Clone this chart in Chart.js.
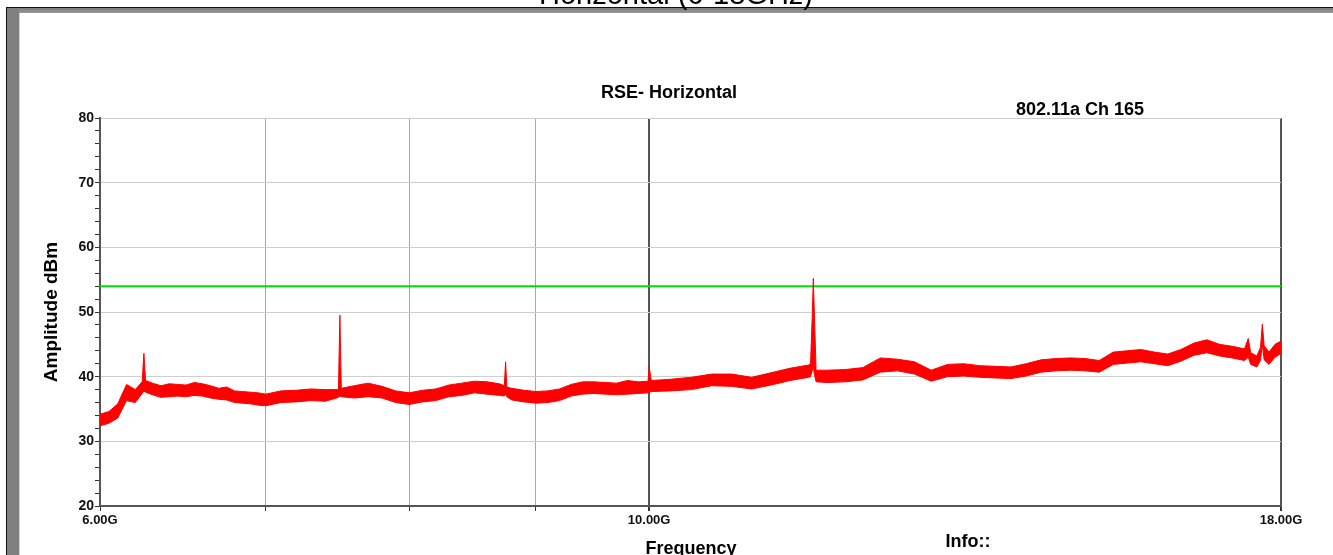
<!DOCTYPE html>
<html>
<head>
<meta charset="utf-8">
<script src="https://cdn.jsdelivr.net/npm/chart.js@4.4.1/dist/chart.umd.min.js"></script>
<style>
  html, body { margin: 0; padding: 0; background: #fff; }
  #wrap { position: relative; width: 1333px; height: 555px; overflow: hidden; }
  .frameTopLine { position: absolute; left: 6px; top: 7px; width: 1327px; height: 1px; background: #111; }
  .frameLeftLine { position: absolute; left: 6px; top: 7px; width: 1px; height: 548px; background: #111; }
  .frameTop { position: absolute; left: 7px; top: 8px; width: 1326px; height: 5px; background: linear-gradient(#7a7a7a, #9a9a9a); }
  .frameLeft { position: absolute; left: 7px; top: 8px; width: 12px; height: 547px; background: #808080; }
  .frameLeftEdge { position: absolute; left: 19px; top: 13px; width: 1px; height: 542px; background: #d0d0d0; }
  canvas { position: absolute; left: 0; top: 0; }
</style>
</head>
<body>
<div id="wrap">
  <div class="frameTop"></div>
  <div class="frameLeft"></div>
  <div class="frameLeftEdge"></div>
  <div class="frameTopLine"></div>
  <div class="frameLeftLine"></div>
  <canvas id="rseChart" width="1333" height="555"></canvas>
</div>
<script>
// frequencies in GHz, envelope of the measured trace in dBm
const freqGHz = [6.00, 6.05, 6.10, 6.15, 6.20, 6.24, 6.25, 6.26, 6.30, 6.35, 6.40, 6.45, 6.50, 6.55, 6.60, 6.65, 6.70, 6.75, 6.80, 6.85, 6.90, 6.95, 7.00,
  7.1, 7.2, 7.3, 7.4, 7.49, 7.50, 7.51, 7.6, 7.7, 7.8, 7.9, 8.0, 8.1, 8.2, 8.3, 8.4, 8.5, 8.6, 8.7, 8.74, 8.75, 8.76, 8.8, 8.9, 9.0,
  9.1, 9.2, 9.3, 9.4, 9.5, 9.6, 9.7, 9.8, 9.9, 9.99, 10.0, 10.02, 10.2, 10.4, 10.6, 10.8, 11.0, 11.2, 11.4, 11.6, 11.62, 11.64, 11.65, 11.66, 11.68,
  11.8, 12.0, 12.2, 12.4, 12.6, 12.8, 13.0, 13.2, 13.4, 13.6, 13.8, 14.0, 14.2, 14.4, 14.6, 14.8, 15.0, 15.2, 15.4, 15.6, 15.8, 16.0,
  16.2, 16.4, 16.6, 16.8, 17.0, 17.2, 17.4, 17.46, 17.5, 17.6, 17.66, 17.69, 17.72, 17.8, 17.9, 18.0];

const upperDb = [34.2, 34.6, 35.8, 38.8, 38.0, 39.2, 43.6, 39.4, 39.0, 38.6, 38.9, 38.8, 38.7, 39.1, 38.9, 38.6, 38.2, 38.4, 37.8, 37.7, 37.6, 37.5, 37.3,
  37.8, 37.9, 38.1, 38.0, 38.0, 49.5, 38.2, 38.6, 39.0, 38.5, 37.8, 37.5, 37.9, 38.1, 38.7, 39.0, 39.3, 39.2, 38.9, 38.6, 42.3, 38.4, 38.2, 37.9, 37.7,
  37.8, 38.1, 38.8, 39.2, 39.2, 39.1, 39.0, 39.4, 39.2, 39.3, 41.6, 39.4, 39.6, 39.9, 40.4, 40.4, 39.9, 40.6, 41.3, 41.8, 42.0, 50.0, 55.2, 50.5, 41.0,
  41.0, 41.1, 41.4, 42.9, 42.7, 42.3, 41.0, 41.9, 42.0, 41.7, 41.6, 41.5, 42.0, 42.6, 42.8, 42.9, 42.8, 42.5, 43.8, 44.0, 44.2, 43.8,
  43.5, 44.2, 45.2, 45.7, 45.0, 44.7, 44.3, 45.9, 43.7, 43.2, 44.5, 48.1, 44.8, 43.8, 45.0, 45.5];

const lowerDb = [32.4, 32.8, 33.6, 36.3, 36.0, 37.4, 37.8, 37.6, 37.2, 36.8, 36.9, 37.0, 36.9, 37.1, 37.0, 36.7, 36.5, 36.4, 36.0, 35.9, 35.8, 35.6, 35.5,
  36.0, 36.1, 36.3, 36.2, 36.8, 37.0, 36.9, 36.7, 36.9, 36.7, 36.0, 35.7, 36.1, 36.3, 36.9, 37.1, 37.5, 37.3, 37.1, 37.0, 37.3, 36.9, 36.4, 36.1, 35.9,
  36.0, 36.3, 37.0, 37.3, 37.4, 37.3, 37.2, 37.3, 37.4, 37.5, 37.6, 37.7, 37.8, 38.0, 38.6, 38.5, 38.1, 38.7, 39.4, 39.9, 40.0, 41.0, 41.5, 40.5, 39.2,
  39.1, 39.2, 39.5, 40.7, 40.9, 40.4, 39.3, 40.0, 40.1, 39.9, 39.8, 39.7, 40.1, 40.7, 40.9, 41.0, 40.9, 40.7, 41.9, 42.1, 42.3, 42.0,
  41.7, 42.4, 43.3, 43.7, 43.2, 42.9, 42.5, 43.0, 41.9, 41.5, 42.5, 45.0, 42.6, 41.9, 43.0, 43.6];

const limitFreq = [6.0, 18.0];
const limitDb = [54, 54];

const xTickValues = [6, 7, 8, 9, 10, 18];
const xTickLabels = ['6.00G', '', '', '', '10.00G', '18.00G'];
const yMin = 20, yMax = 80, yStep = 2;

const FONT = "'Liberation Sans', Arial, sans-serif";

// titles and axis names drawn at fixed spots like the analyser printout
const textsPlugin = {
  id: 'texts',
  afterDraw(chart) {
    const ctx = chart.ctx;
    ctx.save();
    ctx.fillStyle = '#000';
    ctx.textBaseline = 'alphabetic';
    ctx.textAlign = 'center';
    ctx.font = '29px ' + FONT;
    ctx.fillText('Horizontal (6-18GHz)', 676, 4);
    ctx.font = 'bold 18px ' + FONT;
    ctx.fillText('RSE- Horizontal', 669, 98);
    ctx.fillText('802.11a Ch 165', 1080, 115);
    ctx.fillText('Frequency', 691, 554);
    ctx.fillText('Info::', 968, 547);
    ctx.translate(57, 312);
    ctx.rotate(-Math.PI / 2);
    ctx.font = 'bold 19px ' + FONT;
    ctx.fillText('Amplitude dBm', 0, 0);
    ctx.restore();
  }
};

const ctx = document.getElementById('rseChart').getContext('2d');

new Chart(ctx, {
  type: 'line',
  data: {
    datasets: [
      {
        label: 'upper',
        data: freqGHz.map((f, i) => ({ x: f, y: upperDb[i] })),
        borderColor: '#ff0000',
        backgroundColor: '#ff0000',
        borderWidth: 1,
        pointRadius: 0,
        fill: '+1',
        order: 0
      },
      {
        label: 'lower',
        data: freqGHz.map((f, i) => ({ x: f, y: lowerDb[i] })),
        borderColor: '#ff0000',
        borderWidth: 1,
        pointRadius: 0,
        fill: false,
        order: 0
      },
      {
        label: 'limit',
        data: limitFreq.map((f, i) => ({ x: f, y: limitDb[i] })),
        borderColor: '#00e000',
        borderWidth: 2,
        pointRadius: 0,
        fill: false,
        order: 1
      }
    ]
  },
  options: {
    responsive: false,
    animation: false,
    devicePixelRatio: 1,
    layout: { padding: { left: 0, right: 52, top: 118, bottom: 0 } },
    plugins: {
      legend: { display: false },
      tooltip: { enabled: false },
      title: { display: false }
    },
    scales: {
      x: {
        type: 'logarithmic',
        min: 6,
        max: 18,
        afterBuildTicks: axis => { axis.ticks = xTickValues.map(v => ({ value: v })); },
        afterFit: scale => { scale.height = 49; },
        border: { color: '#555', width: 2 },
        grid: {
          color: c => (c.tick && (c.tick.value === 10 || c.tick.value === 18)) ? '#555' : '#a8a8a8',
          lineWidth: c => (c.tick && (c.tick.value === 10 || c.tick.value === 18)) ? 2 : 1,
          tickColor: '#333',
          tickLength: 5
        },
        ticks: {
          autoSkip: false,
          maxRotation: 0,
          padding: 2,
          color: '#111',
          font: { family: FONT, size: 13, weight: 'bold' },
          callback: (v) => {
            const i = xTickValues.indexOf(v);
            return i >= 0 ? xTickLabels[i] : '';
          }
        }
      },
      y: {
        min: yMin,
        max: yMax,
        afterFit: scale => { scale.width = 100; },
        border: { color: '#555', width: 2 },
        grid: {
          color: c => (c.tick && c.tick.value % 10 === 0) ? '#cfcfcf' : 'rgba(0,0,0,0)',
          tickColor: '#333',
          tickLength: 5
        },
        ticks: {
          stepSize: yStep,
          autoSkip: false,
          padding: 1,
          color: '#111',
          font: { family: FONT, size: 14, weight: 'bold' },
          callback: v => (v % 10 === 0 ? String(v) : '')
        }
      }
    }
  },
  plugins: [textsPlugin]
});
</script>
</body>
</html>
